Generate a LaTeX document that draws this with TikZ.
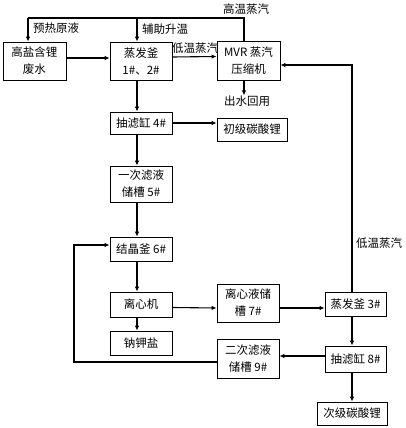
\documentclass[tikz,border=0pt]{standalone}
\usepackage{fontspec}
\setmainfont{Noto Sans CJK SC}
\usetikzlibrary{arrows.meta,calc,shadows}
\begin{document}
\begin{tikzpicture}[x=1pt,y=-1pt,
  box/.style={draw,line width=0.8pt,fill=white,inner sep=0pt,align=center,
    font=\fontsize{11.5}{17}\selectfont,
    drop shadow={shadow xshift=1.2pt,shadow yshift=-1.2pt,fill=black!55,opacity=1}},
  lbl/.style={font=\fontsize{11.5}{13}\selectfont,inner sep=0pt},
  line/.style={line width=1.1pt},
  arr/.style={line width=1.1pt,-{Latex[length=5pt,width=4.5pt]}}]
\useasboundingbox (0,0) rectangle (406,428);
% boxes
\node[box,minimum width=63pt,minimum height=38pt] (A) at (34.5,61) {高盐含锂\\废水};
\node[box,minimum width=62pt,minimum height=38pt] (B) at (141,61) {蒸发釜\\1\#、2\#};
\node[box,minimum width=63pt,minimum height=39pt] (C) at (248.5,60.5) {MVR 蒸汽\\压缩机};
\node[box,minimum width=62pt,minimum height=22pt] (D) at (141,123) {抽滤缸 4\#};
\node[box,minimum width=70pt,minimum height=23pt] (E) at (252,129.5) {初级碳酸锂};
\node[box,minimum width=62pt,minimum height=36pt] (F) at (141,184) {一次滤液\\储槽 5\#};
\node[box,minimum width=62pt,minimum height=24pt] (G) at (141,249) {结晶釜 6\#};
\node[box,minimum width=62pt,minimum height=25pt] (H) at (141,304.5) {离心机};
\node[box,minimum width=62pt,minimum height=24pt] (I) at (141,343) {钠钾盐};
\node[box,minimum width=62pt,minimum height=38pt] (J) at (248,303) {离心液储\\槽 7\#};
\node[box,minimum width=61pt,minimum height=24pt] (K) at (355.5,304) {蒸发釜 3\#};
\node[box,minimum width=61pt,minimum height=26pt] (L) at (355.5,359) {抽滤缸 8\#};
\node[box,minimum width=62pt,minimum height=39pt] (M) at (248,358.5) {二次滤液\\储槽 9\#};
\node[box,minimum width=70pt,minimum height=23pt] (N) at (352,413.5) {次级碳酸锂};
% labels
\node[lbl] (t1) at (246,9) {高温蒸汽};
\node[lbl,anchor=west] (t2) at (33,28) {预热原液};
\node[lbl,anchor=west] (t3) at (142,29) {辅助升温};
\node[lbl] (t4) at (195,48) {低温蒸汽};
\node[lbl] (out) at (247,101) {出水回用};
\node[lbl,anchor=west] (t5) at (356,243) {低温蒸汽};
% coordinates
\coordinate (tl) at (28,18);
\coordinate (tm) at (137,18);
\coordinate (tr) at (244,18);
\coordinate (lc) at (137,0);
\coordinate (rc) at (352,65);
\coordinate (lp) at (74,0);
\coordinate (m1) at ($(M.west)+(0,3.5)$);
\coordinate (g1) at ($(G.west)+(0,-4)$);
% top steam
\draw[line] (C.north -| tr) -- (tr) -- (tl);
\draw[arr] (tl) -- (A.north -| tl);
\draw[arr] (tm) -- (B.north -| tm);
\draw[arr] ($(A.east)+(0,-3)$) -- ($(B.west)+(0,-3)$);
\draw[arr] ($(B.east)+(0,-4)$) -- ($(C.west)+(0,-4)$);
\draw[arr] (C.south -| tr) -- (out.north -| tr);
% left column
\draw[arr] (B.south -| lc) -- (D.north -| lc);
\draw[arr] (D.east) -- (D.east -| E.west);
\draw[arr] (D.south -| lc) -- (F.north -| lc);
\draw[arr] (F.south -| lc) -- (G.north -| lc);
\draw[arr] (G.south -| lc) -- (H.north -| lc);
\draw[arr] (H.south -| lc) -- (I.north -| lc);
\draw[arr] ($(H.east)+(0,3)$) -- ($(J.west)+(0,5)$);
\draw[arr] ($(J.east)+(0,5)$) -- ($(K.west)+(0,4)$);
% right column
\draw[arr] (K.north -| rc) -- (rc) -- (rc -| C.east);
\draw[arr] (K.south -| rc) -- (L.north -| rc);
\draw[arr] (L.south -| rc) -- (N.north -| rc);
\draw[arr] ($(L.west)+(0,-3)$) -- ($(M.east)+(0,-2.5)$);
% loop back
\draw[arr] (m1) -- (m1 -| lp) -- (g1 -| lp) -- (g1);
\end{tikzpicture}
\end{document}
